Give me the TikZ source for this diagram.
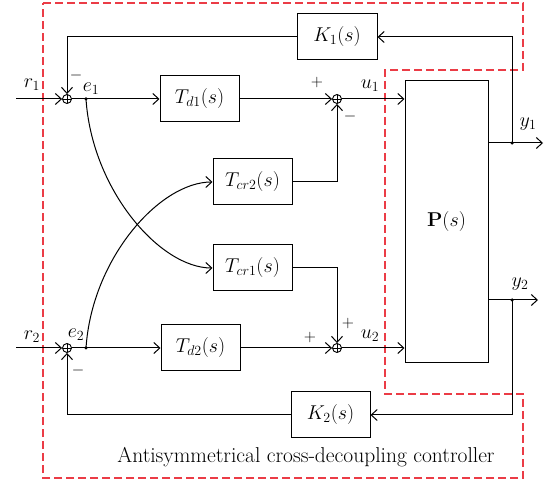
\RequirePackage{fix-cm}
\documentclass[tikz,border=0pt]{standalone}
\usetikzlibrary{arrows.meta}
\definecolor{dashred}{RGB}{235,60,70}
\begin{document}
\begin{tikzpicture}[x=1pt,y=-1pt,
  every node/.style={font=\fontsize{20}{23}\selectfont},
  blk/.style={draw,line width=1pt,minimum width=79pt,minimum height=46pt,inner sep=0pt},
  sumj/.style={draw,circle,line width=0.9pt,minimum size=9pt,inner sep=0pt,path picture={
     \draw[line width=0.7pt] (path picture bounding box.north) -- (path picture bounding box.south)
       (path picture bounding box.west) -- (path picture bounding box.east);}},
  sig/.style={font=\fontsize{16}{18}\selectfont,inner sep=0pt},
  lbl/.style={inner sep=0pt},
  wire/.style={line width=1pt},
  arr/.style={line width=1pt,-{Straight Barb[length=6pt,width=11pt,line width=1pt]}},
  dot/.style={circle,fill,inner sep=0pt,minimum size=3.5pt}
]
\useasboundingbox (0,0) rectangle (547,481);
% dashed controller boundary
\draw[dashred,line width=1.2pt,dash pattern=on 8pt off 4pt]
  (43,3) -- (523,3) -- (523,70) -- (385,70) -- (385,394) -- (523,394) -- (523,478) -- (43,478) -- cycle;

% blocks
\node[blk] (Td1) at (199.5,99) {$T_{d1}(s)$};
\node[blk] (Td2) at (200.5,348) {$T_{d2}(s)$};
\node[blk] (Tcr2) at (252.5,182) {$T_{cr2}(s)$};
\node[blk] (Tcr1) at (252.5,268) {$T_{cr1}(s)$};
\node[blk,minimum width=80pt] (K1) at (337,37) {$K_1(s)$};
\node[blk] (K2) at (330.5,415) {$K_2(s)$};
\node[blk,minimum width=83pt,minimum height=282pt] (P) at (446.5,222) {$\mathbf{P}(s)$};

% summing junctions
\node[sumj] (s1) at (67,99) {};
\node[sumj] (s2) at (337,99) {};
\node[sumj] (s3) at (67,348) {};
\node[sumj] (s4) at (337,348) {};

% coordinates
\coordinate (r1s) at (16,99);
\coordinate (r2s) at (16,348);
\node[dot] (e1d) at (86,99) {};
\node[dot] (e2d) at (86,348) {};
\node[dot] (y1d) at (512,143) {};
\node[dot] (y2d) at (512,300) {};
\coordinate (y1e) at (543,143);
\coordinate (y2e) at (538,300);

% inputs
\draw[arr] (r1s) -- (s1.west);
\draw[arr] (r2s) -- (s3.west);
% forward paths
\draw[wire] (s1.east) -- (e1d.center);
\draw[arr] (e1d.center) -- (Td1.west);
\draw[wire] (s3.east) -- (e2d.center);
\draw[arr] (e2d.center) -- (Td2.west);
\draw[arr] (Td1.east) -- (s2.west);
\draw[arr] (Td2.east) -- (s4.west);
% cross paths
\draw[arr] (e1d.center) .. controls (92,190) and (160,268) .. (Tcr1.west);
\draw[arr] (e2d.center) .. controls (92,258) and (160,182) .. (Tcr2.west);
\draw[arr] (Tcr2.east) -| (s2.south);
\draw[arr] (Tcr1.east) -| (s4.north);
% to plant
\draw[arr] (s2.east) -- (s2.east -| P.west);
\draw[arr] (s4.east) -- (s4.east -| P.west);
% outputs
\draw[wire] (y1d.center -| P.east) -- (y1d.center);
\draw[arr] (y1d.center) -- (y1e);
\draw[wire] (y2d.center -| P.east) -- (y2d.center);
\draw[arr] (y2d.center) -- (y2e);
% feedback
\draw[arr] (y1d.center) |- (K1.east);
\draw[arr] (K1.west) -| (s1.north);
\draw[arr] (y2d.center) |- (K2.east);
\draw[arr] (K2.west) -| (s3.south);

% labels
\node[lbl] (lr1) at (32,85) {$r_1$};
\node[lbl] (lr2) at (32,337) {$r_2$};
\node[lbl] (le1) at (91,89) {$e_1$};
\node[lbl] (le2) at (76,335) {$e_2$};
\node[lbl] (lu1) at (370,86) {$u_1$};
\node[lbl] (lu2) at (370,336) {$u_2$};
\node[lbl] (ly1) at (528,124) {$y_1$};
\node[lbl] (ly2) at (520,284) {$y_2$};
\node[sig] (m1) at (76,76) {$-$};
\node[sig] (p2) at (317,83) {$+$};
\node[sig] (m2) at (350,117) {$-$};
\node[sig] (m3) at (78,371) {$-$};
\node[sig] (p4a) at (310,338) {$+$};
\node[sig] (p4b) at (348,324) {$+$};
\node[lbl,font=\fontsize{21.5}{24}\selectfont] (title) at (306,457) {Antisymmetrical cross-decoupling controller};
\end{tikzpicture}
\end{document}
